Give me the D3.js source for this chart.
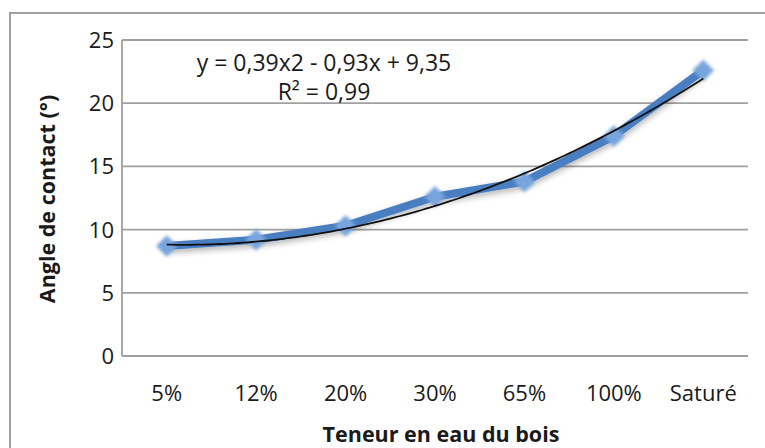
<!DOCTYPE html>
<html>
<head>
<meta charset="utf-8">
<script src="https://cdn.jsdelivr.net/npm/d3@7/dist/d3.min.js"></script>
<style>
  html, body { margin: 0; padding: 0; background: #fff; }
  svg { display: block; font-family: "Open Sans", "Noto Sans", sans-serif; }
</style>
</head>
<body>
<svg id="chart" width="765" height="448"></svg>
<script>
// Contact angle vs. wood moisture content
const categories = ["5%", "12%", "20%", "30%", "65%", "100%", "Saturé"];
const angles = [8.7, 9.2, 10.3, 12.6, 13.8, 17.4, 22.6];
const yTicks = [0, 5, 10, 15, 20, 25];
// Polynomial trendline: y = a x^2 + b x + c  (x = category rank 1..7)
const trendCoef = { a: 0.39, b: -0.93, c: 9.35 };
const trendLabel = ["y = 0,39x2 - 0,93x + 9,35", "R² = 0,99"];
const xTitle = "Teneur en eau du bois";
const yTitle = "Angle de contact (°)";

const svg = d3.select("#chart");
const plot = { left: 122, right: 748, top: 40, bottom: 356 };

const defs = svg.append("defs");
const glow = defs.append("filter").attr("id", "soft")
  .attr("x", "-60%").attr("y", "-60%").attr("width", "220%").attr("height", "220%");
glow.append("feGaussianBlur").attr("stdDeviation", 1.6);

const shadow = defs.append("filter").attr("id", "shadow")
  .attr("x", "-80%").attr("y", "-80%").attr("width", "260%").attr("height", "260%");
shadow.append("feGaussianBlur").attr("in", "SourceAlpha").attr("stdDeviation", 3).attr("result", "b");
shadow.append("feOffset").attr("dy", 3).attr("result", "o");
shadow.append("feComponentTransfer").append("feFuncA").attr("type", "linear").attr("slope", 0.3);
const merge = shadow.append("feMerge");
merge.append("feMergeNode");
merge.append("feMergeNode").attr("in", "SourceGraphic");

// outer chart frame
svg.append("rect")
  .attr("x", 10).attr("y", 13).attr("width", 800).attr("height", 500)
  .attr("fill", "none").attr("stroke", "#a0a0a0").attr("stroke-width", 2);

const x = d3.scaleBand().domain(categories).range([plot.left, plot.right]);
const y = d3.scaleLinear().domain([0, 25]).range([plot.bottom, plot.top]);

// horizontal gridlines
svg.append("g").selectAll("line").data(yTicks).join("line")
  .attr("x1", plot.left).attr("x2", plot.right)
  .attr("y1", d => y(d)).attr("y2", d => y(d))
  .attr("stroke", "#a0a0a0").attr("stroke-width", 1.8);

// vertical axis line
svg.append("line")
  .attr("x1", plot.left).attr("x2", plot.left)
  .attr("y1", plot.top).attr("y2", plot.bottom)
  .attr("stroke", "#a0a0a0").attr("stroke-width", 1.8);

// y tick labels
svg.append("g").selectAll("text").data(yTicks).join("text")
  .attr("x", 114).attr("y", d => y(d))
  .attr("dy", "0.36em")
  .attr("text-anchor", "end")
  .attr("font-size", 22)
  .attr("fill", "#1a1a1a")
  .text(d => d);

// x tick labels
svg.append("g").selectAll("text").data(categories).join("text")
  .attr("x", d => x(d) + x.bandwidth() / 2)
  .attr("y", 393)
  .attr("dy", "0.36em")
  .attr("text-anchor", "middle")
  .attr("font-size", 22)
  .attr("fill", "#1a1a1a")
  .text(d => d);

// axis titles
svg.append("text")
  .attr("x", 441).attr("y", 442)
  .attr("text-anchor", "middle")
  .attr("font-size", 21.5).attr("font-weight", "bold")
  .attr("fill", "#1a1a1a")
  .text(xTitle);

svg.append("text")
  .attr("transform", "translate(55,199) rotate(-90)")
  .attr("text-anchor", "middle")
  .attr("font-size", 21.5).attr("font-weight", "bold")
  .attr("fill", "#1a1a1a")
  .text(yTitle);

const cx = d => x(d) + x.bandwidth() / 2;
const pts = categories.map((c, i) => [cx(c), y(angles[i])]);

// data series line
svg.append("path")
  .attr("d", d3.line()(pts))
  .attr("fill", "none")
  .attr("stroke", "#4a7fc1")
  .attr("stroke-width", 8)
  .attr("stroke-linejoin", "round")
  .attr("filter", "url(#shadow)");

// diamond markers
svg.append("g").selectAll("path").data(pts).join("path")
  .attr("transform", d => `translate(${d[0]},${d[1]}) rotate(45)`)
  .attr("d", d3.symbol().type(d3.symbolSquare).size(230)())
  .attr("fill", "#78a5de")
  .attr("filter", "url(#soft)");

// polynomial trendline
const trendX = d3.range(1, 7.0001, 0.05);
const xRank = d3.scaleLinear().domain([1, categories.length])
  .range([cx(categories[0]), cx(categories[categories.length - 1])]);
const trendPts = trendX.map(t => [xRank(t), y(trendCoef.a * t * t + trendCoef.b * t + trendCoef.c)]);
svg.append("path")
  .attr("d", d3.line()(trendPts))
  .attr("fill", "none")
  .attr("stroke", "#111")
  .attr("stroke-width", 1.8);

// trendline equation
svg.append("g").selectAll("text").data(trendLabel).join("text")
  .attr("x", 324)
  .attr("y", (d, i) => 63 + i * 29)
  .attr("dy", "0.36em")
  .attr("text-anchor", "middle")
  .attr("font-size", 23)
  .attr("fill", "#1a1a1a")
  .text(d => d);
</script>
</body>
</html>
